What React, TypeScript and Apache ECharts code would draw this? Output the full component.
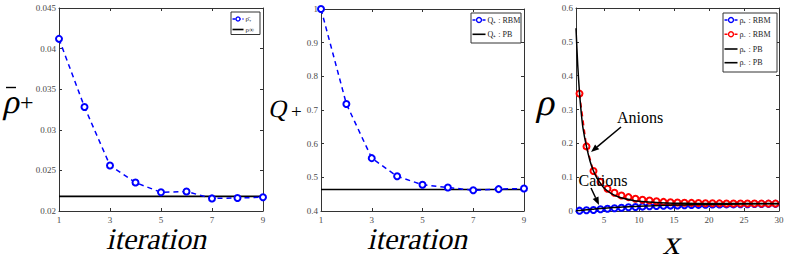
import React, { useEffect, useRef } from "react";
import * as echarts from "echarts";

// ---- data ----
const iterations = [1, 2, 3, 4, 5, 6, 7, 8, 9];
const rhoBarPlus = [0.0412, 0.0328, 0.0256, 0.0235, 0.0223, 0.0224, 0.02155, 0.0216, 0.0217];
const rhoInf = 0.0218;
const qPlusRBM = [1.0, 0.718, 0.557, 0.503, 0.478, 0.47, 0.4615, 0.465, 0.467];
const qPlusPB = 0.464;

const xRBM = [1.5, 2.5, 3.5, 4.5, 5.5, 6.5, 7.5, 8.5, 9.5, 10.5, 11.5, 12.5, 13.5, 14.5, 15.5, 16.5, 17.5, 18.5, 19.5, 20.5, 21.5, 22.5, 23.5, 24.5, 25.5, 26.5, 27.5, 28.5, 29.5];
const rhoMinusRBM = [0.347, 0.191, 0.118, 0.086, 0.066, 0.054, 0.046, 0.041, 0.036, 0.033, 0.031, 0.029, 0.027, 0.026, 0.025, 0.0245, 0.024, 0.0235, 0.023, 0.0228, 0.0226, 0.0224, 0.0222, 0.0221, 0.022, 0.022, 0.0219, 0.0219, 0.0219];
const rhoPlusRBM = [0.001, 0.002, 0.003, 0.005, 0.0065, 0.008, 0.0095, 0.011, 0.012, 0.013, 0.014, 0.015, 0.0155, 0.016, 0.0165, 0.017, 0.0175, 0.018, 0.0185, 0.019, 0.019, 0.0195, 0.0195, 0.02, 0.02, 0.0205, 0.0205, 0.021, 0.021];

const xPB = [1, 1.25, 1.5, 1.75, 2, 2.5, 3, 3.5, 4, 5, 6, 7, 8, 9, 10, 12, 14, 16, 18, 20, 25, 30];
const rhoMinusPB = [0.54, 0.43, 0.35, 0.29, 0.245, 0.19, 0.148, 0.118, 0.097, 0.068, 0.052, 0.042, 0.036, 0.032, 0.029, 0.026, 0.024, 0.023, 0.0225, 0.022, 0.0218, 0.0218];
const rhoPlusPB = [0.0005, 0.001, 0.0015, 0.002, 0.0025, 0.0035, 0.0045, 0.0055, 0.0065, 0.008, 0.0095, 0.011, 0.012, 0.013, 0.014, 0.0155, 0.017, 0.018, 0.019, 0.0195, 0.0208, 0.0215];

const iterTicks = [1, 3, 5, 7, 9];
const xTicks = [5, 10, 15, 20, 25, 30];

const legend1 = ["ρ̄₊", "ρ∞"];
const legend2 = ["Q₊ : RBM", "Q₊ : PB"];
const legend3 = ["ρ₊ : RBM", "ρ₋ : RBM", "ρ₊ : PB", "ρ₋ : PB"];

const SERIF = "Liberation Serif";
const AX = "#333";
const LBL = "#4a4a4a";
const BLUE = "#0000ff";
const RED = "#ff0000";
const SLANT = -0.22;

function xAxis(gridIndex: number, min: number, max: number, ticks: number[], top: boolean) {
  return {
    type: "value",
    gridIndex,
    min,
    max,
    position: top ? "top" : "bottom",
    axisLine: { show: true, onZero: false, lineStyle: { color: AX, width: 1 } },
    axisTick: { show: true, inside: true, length: 3, customValues: ticks, lineStyle: { color: AX } },
    axisLabel: {
      show: !top,
      customValues: ticks,
      fontFamily: SERIF,
      fontSize: 9,
      color: LBL,
      margin: 4,
    },
    splitLine: { show: false },
  };
}

function yAxis(gridIndex: number, min: number, max: number, interval: number, right: boolean) {
  return {
    type: "value",
    gridIndex,
    min,
    max,
    interval,
    position: right ? "right" : "left",
    axisLine: { show: true, onZero: false, lineStyle: { color: AX, width: 1 } },
    axisTick: { show: true, inside: true, length: 3, lineStyle: { color: AX } },
    axisLabel: {
      show: !right,
      fontFamily: SERIF,
      fontSize: 9,
      color: LBL,
      margin: 3,
    },
    splitLine: { show: false },
  };
}

function arrow(x1: number, y1: number, x2: number, y2: number) {
  const dx = x2 - x1;
  const dy = y2 - y1;
  const len = Math.sqrt(dx * dx + dy * dy);
  const ux = dx / len;
  const uy = dy / len;
  const L = 8;
  const W = 3.2;
  const bx = x2 - ux * L;
  const by = y2 - uy * L;
  return [
    { type: "line", shape: { x1, y1, x2: bx, y2: by }, style: { stroke: "#000", lineWidth: 1.5 }, z: 100 },
    {
      type: "polygon",
      shape: { points: [[x2, y2], [bx - uy * W, by + ux * W], [bx + uy * W, by - ux * W]] },
      style: { fill: "#000" },
      z: 100,
    },
  ];
}

type Item = { label: string; color: string; dashed: boolean; marker: boolean };

function legendBox(
  x: number,
  y: number,
  w: number,
  h: number,
  rowYs: number[],
  items: Item[],
  iconW: number,
  fontSize: number,
  r: number
) {
  const els: any[] = [
    {
      type: "rect",
      shape: { x, y, width: w, height: h },
      style: { fill: "#fff", stroke: "#333", lineWidth: 1 },
      z: 50,
    },
  ];
  items.forEach((it, i) => {
    const ry = rowYs[i];
    els.push({
      type: "line",
      shape: { x1: x + 1.5, y1: ry, x2: x + 1.5 + iconW, y2: ry },
      style: { stroke: it.color, lineWidth: it.dashed ? 1.5 : 1.6, lineDash: it.dashed ? [3, 2] : null },
      z: 51,
    });
    if (it.marker) {
      els.push({
        type: "circle",
        shape: { cx: x + 1.5 + iconW / 2, cy: ry, r },
        style: { fill: "#fff", stroke: it.color, lineWidth: 1.4 },
        z: 52,
      });
    }
    els.push({
      type: "text",
      x: x + iconW + 3.5,
      y: ry,
      z: 52,
      style: {
        text: it.label,
        fontFamily: SERIF,
        fontSize,
        fill: "#222",
        verticalAlign: "middle",
      },
    });
  });
  return els;
}

const zip = (xs: number[], ys: number[]) => xs.map((x, i) => [x, ys[i]]);

export default function App() {
  const ref = useRef<HTMLDivElement>(null);
  useEffect(() => {
    if (!ref.current) return;
    const chart = echarts.init(ref.current, null, { renderer: "svg" });
    const dashed = (color: string) => ({ color, width: 1.5, type: [5, 4] });
    const marker = (color: string) => ({ color, borderColor: color, borderWidth: 1.4 });
    const txt = (x: number, y: number, text: string, size: number, slant: boolean, align = "left") => ({
      type: "text",
      x,
      y,
      skewX: slant ? SLANT : 0,
      originX: 0,
      originY: size * 0.3375,
      style: {
        text,
        fontFamily: SERIF,
        fontSize: size,
        fill: "#000",
        align,
        verticalAlign: "middle",
      },
    });
    const option: any = {
      animation: false,
      backgroundColor: "#fff",
      grid: [
        { left: 59, top: 8, width: 204, height: 203 },
        { left: 321, top: 9, width: 203, height: 202 },
        { left: 576, top: 8, width: 203, height: 203 },
      ],
      xAxis: [
        xAxis(0, 1, 9, iterTicks, false),
        xAxis(0, 1, 9, iterTicks, true),
        xAxis(1, 1, 9, iterTicks, false),
        xAxis(1, 1, 9, iterTicks, true),
        xAxis(2, 1, 30, xTicks, false),
        xAxis(2, 1, 30, xTicks, true),
      ],
      yAxis: [
        yAxis(0, 0.02, 0.045, 0.005, false),
        yAxis(0, 0.02, 0.045, 0.005, true),
        yAxis(1, 0.4, 1, 0.1, false),
        yAxis(1, 0.4, 1, 0.1, true),
        yAxis(2, 0, 0.6, 0.1, false),
        yAxis(2, 0, 0.6, 0.1, true),
      ],
      series: [
        {
          name: legend1[1],
          type: "line",
          xAxisIndex: 0,
          yAxisIndex: 0,
          data: [[1, rhoInf], [9, rhoInf]],
          symbol: "none",
          lineStyle: { color: "#000", width: 1.6 },
          z: 2,
        },
        {
          name: legend1[0],
          type: "line",
          xAxisIndex: 0,
          yAxisIndex: 0,
          data: zip(iterations, rhoBarPlus),
          symbol: "emptyCircle",
          symbolSize: 6,
          lineStyle: dashed(BLUE),
          itemStyle: marker(BLUE),
          z: 3,
        },
        {
          name: legend2[1],
          type: "line",
          xAxisIndex: 2,
          yAxisIndex: 2,
          data: [[1, qPlusPB], [9, qPlusPB]],
          symbol: "none",
          lineStyle: { color: "#000", width: 1.6 },
          z: 2,
        },
        {
          name: legend2[0],
          type: "line",
          xAxisIndex: 2,
          yAxisIndex: 2,
          data: zip(iterations, qPlusRBM),
          symbol: "emptyCircle",
          symbolSize: 6,
          lineStyle: dashed(BLUE),
          itemStyle: marker(BLUE),
          z: 3,
        },
        {
          name: legend3[0],
          type: "line",
          xAxisIndex: 4,
          yAxisIndex: 4,
          data: zip(xRBM, rhoPlusRBM),
          symbol: "emptyCircle",
          symbolSize: 6,
          lineStyle: dashed(BLUE),
          itemStyle: marker(BLUE),
          z: 3,
        },
        {
          name: legend3[1],
          type: "line",
          xAxisIndex: 4,
          yAxisIndex: 4,
          data: zip(xRBM, rhoMinusRBM),
          symbol: "emptyCircle",
          symbolSize: 6,
          lineStyle: dashed(RED),
          itemStyle: marker(RED),
          z: 3,
        },
        {
          name: legend3[2],
          type: "line",
          xAxisIndex: 4,
          yAxisIndex: 4,
          data: zip(xPB, rhoPlusPB),
          smooth: 0.3,
          symbol: "none",
          lineStyle: { color: "#000", width: 1.5 },
          z: 4,
        },
        {
          name: legend3[3],
          type: "line",
          xAxisIndex: 4,
          yAxisIndex: 4,
          data: zip(xPB, rhoMinusPB),
          smooth: 0.3,
          symbol: "none",
          lineStyle: { color: "#000", width: 1.5 },
          z: 4,
        },
      ],
      graphic: [
        // y labels
        txt(2, 101.5, "ρ", 34, true),
        { type: "line", shape: { x1: 6, y1: 87.5, x2: 16, y2: 87.5 }, style: { stroke: "#000", lineWidth: 1.4 } },
        txt(20, 102, "+", 24, false),
        txt(268, 108.6, "Q", 25, true),
        txt(291, 111, "+", 19, false),
        txt(535, 101.7, "ρ", 38, true),
        // x labels
        txt(156, 239, "iteration", 30, true, "center"),
        txt(417, 239, "iteration", 30, true, "center"),
        txt(671, 242.5, "x", 34, true, "center"),
        // annotations
        { ...txt(640, 117, "Anions", 16, false, "center"), z: 100 },
        { ...txt(603, 180, "Cations", 16, false, "center"), z: 100 },
        ...arrow(621, 127, 591, 152),
        ...arrow(591, 188, 599, 205),
        // legends
        ...legendBox(231, 12, 29, 22.5, [19, 29.5], [
          { label: legend1[0], color: BLUE, dashed: true, marker: true },
          { label: legend1[1], color: "#000", dashed: false, marker: false },
        ], 11, 7, 2),
        ...legendBox(471, 13, 50, 30, [20, 34.3], [
          { label: legend2[0], color: BLUE, dashed: true, marker: true },
          { label: legend2[1], color: "#000", dashed: false, marker: false },
        ], 13, 8, 2.5),
        ...legendBox(723, 13, 54, 59, [20, 34.3, 49, 62.7], [
          { label: legend3[0], color: BLUE, dashed: true, marker: true },
          { label: legend3[1], color: RED, dashed: true, marker: true },
          { label: legend3[2], color: "#000", dashed: false, marker: false },
          { label: legend3[3], color: "#000", dashed: false, marker: false },
        ], 13, 8, 2.5),
      ],
    };
    chart.setOption(option);
    return () => chart.dispose();
  }, []);
  return (
    <div
      ref={ref}
      style={{ position: "fixed", left: 0, top: 0, width: 789, height: 261, background: "#fff" }}
    />
  );
}
